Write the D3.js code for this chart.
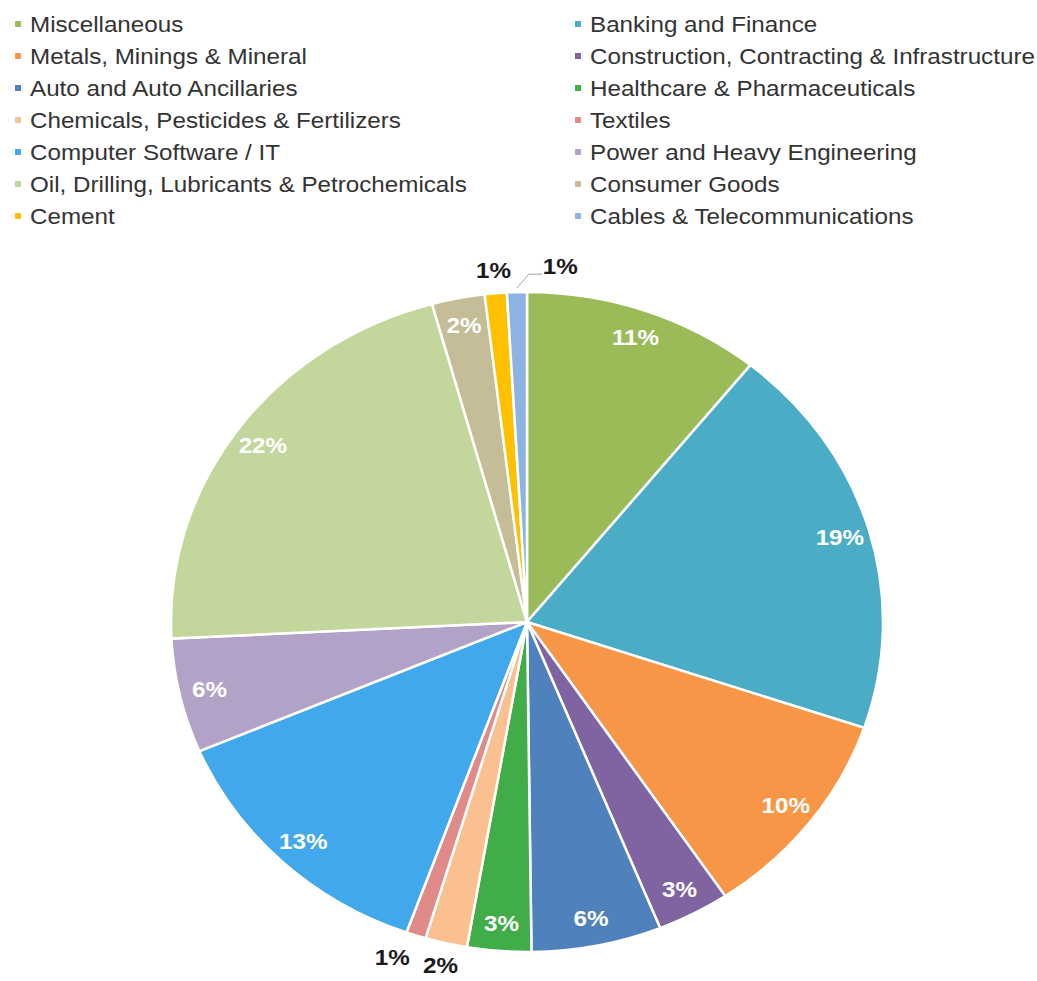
<!DOCTYPE html>
<html>
<head>
<meta charset="utf-8">
<script src="https://cdn.jsdelivr.net/npm/d3@7"></script>
<style>
  body { margin: 0; background: #fff; }
  svg { display: block; font-family: "Liberation Sans", Arial, sans-serif; }
</style>
</head>
<body>
<svg id="chart" width="1037" height="981"></svg>
<script>
// sectors, clockwise from 12 o'clock
const sectors = [
  "Miscellaneous", "Banking and Finance",
  "Metals, Minings & Mineral", "Construction, Contracting & Infrastructure",
  "Auto and Auto Ancillaries", "Healthcare & Pharmaceuticals",
  "Chemicals, Pesticides & Fertilizers", "Textiles",
  "Computer Software / IT", "Power and Heavy Engineering",
  "Oil, Drilling, Lubricants & Petrochemicals", "Consumer Goods",
  "Cement", "Cables & Telecommunications"
];
const shares = [10.8, 19.4, 10.4, 3.3, 5.9, 2.9, 1.9, 0.9, 13.1, 5.6, 21.5, 2.4, 1.0, 0.9];
const colors = [
  "#9bbb59", "#4bacc6", "#f79646", "#8064a2", "#4f81bd", "#41ad49", "#fac090",
  "#e08a8a", "#42a8ec", "#b3a2c7", "#c3d69b", "#c4bd97", "#ffc000", "#8db3e2"
];

const data = sectors.map((name, i) => ({ name: name, value: shares[i], color: colors[i] }));

const svg = d3.select("#chart");
const cx = 527, cy = 622;
const ry = 330, rx = 356;      // picture is a bit wider than tall
const sx = rx / ry;
const textStretch = 1.1;

// legend, two columns
const legend = svg.append("g");
data.forEach((d, i) => {
  const col = i % 2, row = Math.floor(i / 2);
  const x = col === 0 ? 18 : 578;
  const y = 24 + row * 32;
  legend.append("rect")
    .attr("x", x - 3).attr("y", y - 3)
    .attr("width", 6).attr("height", 6)
    .attr("fill", d.color);
  legend.append("text")
    .attr("transform", `translate(${x + 12},${y}) scale(${textStretch},1)`)
    .attr("dominant-baseline", "central")
    .style("font-size", "22px")
    .attr("fill", "#333")
    .text(d.name);
});

// pie
const pie = d3.pie().sort(null).value(d => d.value);
const arcs = pie(data);
const arc = d3.arc().innerRadius(0).outerRadius(ry);

const pieG = svg.append("g")
  .attr("transform", `translate(${cx},${cy}) scale(${sx},1)`);

pieG.selectAll("path")
  .data(arcs)
  .enter()
  .append("path")
  .attr("d", arc)
  .attr("fill", d => d.data.color)
  .attr("stroke", "#fff")
  .attr("stroke-width", 2.5)
  .attr("vector-effect", "non-scaling-stroke");

// labels
const labelG = svg.append("g").attr("transform", `translate(${cx},${cy})`);
const pct = d => Math.round(d.data.value) + "%";
const polar = (a, r) => [Math.sin(a) * r * sx, -Math.cos(a) * r];

arcs.forEach((d, i) => {
  const mid = (d.startAngle + d.endAngle) / 2;
  const outside = d.data.value < 2.2;
  let [x, y] = polar(mid, outside ? 353 : 302);
  if (outside && i === arcs.length - 1) {
    // last thin slice: pushed right with a leader line
    const [ax, ay] = polar(mid, ry + 4);
    x += 44; y -= 3;
    labelG.append("polyline")
      .attr("points", `${ax},${ay} ${ax + 12},${ay - 14} ${x - 18},${ay - 14}`)
      .attr("fill", "none")
      .attr("stroke", "#a6a6a6")
      .attr("stroke-width", 1);
  }
  if (outside && d.data.name === "Textiles") x -= 16;
  labelG.append("text")
    .attr("transform", `translate(${x},${y}) scale(${textStretch},1)`)
    .attr("text-anchor", "middle")
    .attr("dominant-baseline", "central")
    .style("font-size", "22px")
    .style("font-weight", "bold")
    .attr("fill", outside ? "#1a1a1a" : "#fff")
    .text(pct(d));
});
</script>
</body>
</html>
